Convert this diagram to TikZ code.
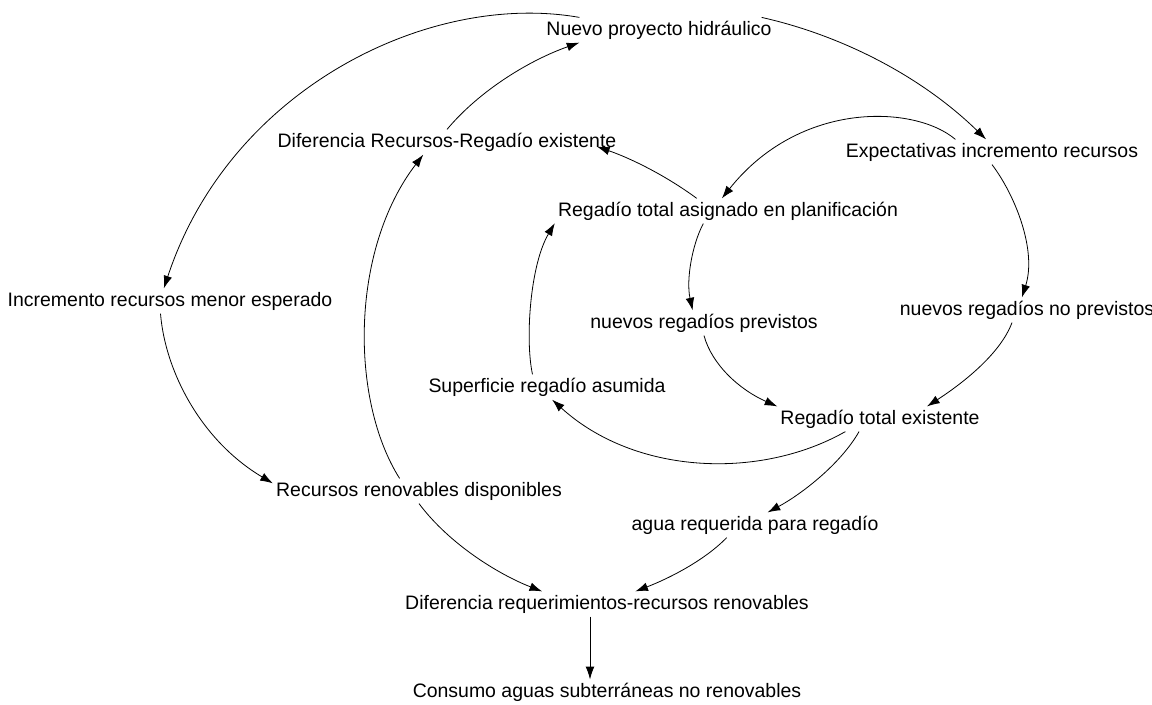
\documentclass[tikz,border=0pt]{standalone}
\usepackage{fontspec}
\setmainfont{Liberation Sans}
\usetikzlibrary{arrows.meta}
\begin{document}
\begin{tikzpicture}[x=0.75pt,y=-0.75pt,
  var/.style={inner sep=2.25pt,text height=11pt,text depth=3pt,font=\fontsize{14.6pt}{17pt}\selectfont},
  arr/.style={line width=0.6pt,-{Latex[length=9.5pt,width=6.5pt]}}]
\useasboundingbox (0,0) rectangle (1152,704);
\node[var] (N1) at (659,30) {Nuevo proyecto hidráulico};
\node[var] (N2) at (447,142) {Diferencia Recursos-Regadío existente};
\node[var] (N3) at (992,152) {Expectativas incremento recursos};
\node[var] (N4) at (728,211) {Regadío total asignado en planificación};
\node[var] (N5) at (170,301) {Incremento recursos menor esperado};
\node[var] (N6) at (704,323) {nuevos regadíos previstos};
\node[var] (N7) at (1027,310) {nuevos regadíos no previstos};
\node[var] (N8) at (547,387) {Superficie regadío asumida};
\node[var] (N9) at (880,419) {Regadío total existente};
\node[var] (N10) at (419,491) {Recursos renovables disponibles};
\node[var] (N11) at (755,525) {agua requerida para regadío};
\node[var] (N12) at (607,604) {Diferencia requerimientos-recursos renovables};
\node[var] (N13) at (607,692) {Consumo aguas subterráneas no renovables};
% edges
\draw[arr] (N1.171.6) .. controls (430,-9) and (230,88) .. (N5.116.6);
\draw[arr] (N2.north) .. controls (480,90) and (530,60) .. (N1.189.6);
\draw[arr] (N1.7.1) .. controls (840,35) and (920,75) .. (N3.115.6);
\draw[arr] (N3.161.1) .. controls (915,105) and (800,100) .. (N4.116.6);
\draw[arr] (N4.158.8) .. controls (665,175) and (630,158) .. ([xshift=-17pt,yshift=-3.5pt]N2.east);
\draw[arr] (N3.south) .. controls (1015,195) and (1037,250) .. (N7.112.6);
\draw[arr] (N4.207.6) .. controls (692,245) and (686,280) .. (N6.132.7);
\draw[arr] (N6.south) .. controls (712,365) and (740,390) .. (N9.173.4);
\draw[arr] (N7.220.6) .. controls (1000,355) and (960,385) .. (N9.15.9);
\draw[arr] (N9.200) .. controls (760,480) and (635,475) .. (N8.292.6);
\draw[arr] (N8.139.4) .. controls (525,340) and (530,265) .. (N4.184.2);
\draw[arr] (N5.233.1) .. controls (165,370) and (200,440) .. (N10.177.6);
\draw[arr] (N10.147.7) .. controls (350,400) and (350,250) .. (N2.208.6);
\draw[arr] (N10.south) .. controls (450,545) and (500,575) .. (N12.169.5);
\draw[arr] (N9.211) .. controls (840,465) and (800,495) .. (N11.45);
\draw[arr] (N11.204) .. controls (705,560) and (670,578) .. (N12.24);
\draw[arr] ([xshift=-12.75pt]N12.south) -- ([xshift=-12.75pt]N12.south |- N13.north);
\end{tikzpicture}
\end{document}
